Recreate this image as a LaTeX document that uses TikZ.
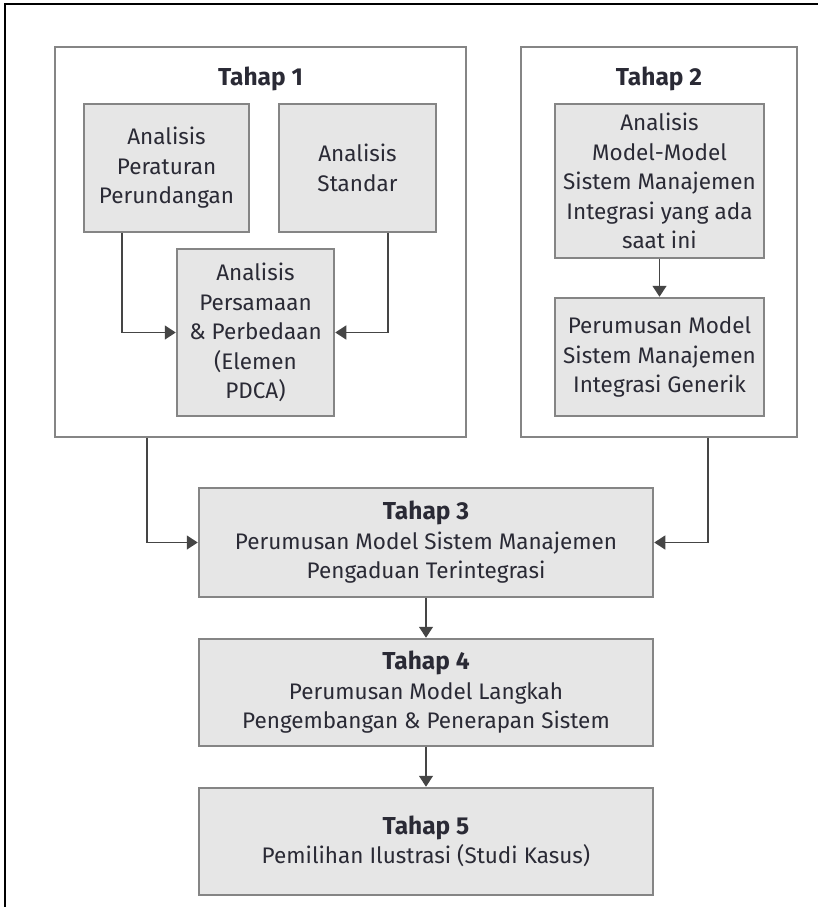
\documentclass[tikz,border=0pt]{standalone}
\usepackage{fontspec}
\setmainfont{Fira Sans}
\usetikzlibrary{arrows.meta}
\definecolor{boxfill}{HTML}{E6E6E6}
\definecolor{boxline}{HTML}{858585}
\definecolor{txt}{HTML}{2A2A35}
\definecolor{conn}{HTML}{454545}
\newcommand{\stagehead}[1]{{\fontsize{24.5}{29.5}\selectfont\bfseries #1}}
\tikzset{
  stage/.style={draw=boxline, line width=1.5pt, fill=white, inner sep=0pt},
  card/.style={draw=boxline, line width=1.5pt, fill=boxfill, inner sep=0pt,
    align=center, text=txt, font=\fontsize{22.5}{29.5}\selectfont},
  title/.style={text=txt, font=\fontsize{24.5}{29.5}\selectfont\bfseries},
  arr/.style={draw=conn, line width=1.3pt,
    -{Triangle[width=14pt,length=11pt]}, shorten >=0.5pt},
}
\begin{document}
\begin{tikzpicture}[x=1pt, y=-1pt]
\useasboundingbox (0,0) rectangle (818,907);
\begin{scope}
  \clip (0,0) rectangle (818,907);
  \draw[black, line width=2pt] (5,4) rectangle (840,930);
\end{scope}

% outer stage frames
\node[stage, minimum width=411pt, minimum height=390pt] (s1) at (260.5,242) {};
\node[stage, minimum width=276pt, minimum height=390pt] (s2) at (659,242) {};
\node[title] (s1t) at (260.5,79) {Tahap 1};
\node[title] (s2t) at (659,79) {Tahap 2};

% stage 1 contents
\node[card, minimum width=165pt, minimum height=128pt] (per) at (166.5,168)
  {Analisis\\Peraturan\\Perundangan};
\node[card, minimum width=157pt, minimum height=128pt] (std) at (357.5,168)
  {Analisis\\Standar};
\node[card, minimum width=157pt, minimum height=167pt] (pers) at (255.5,332.5)
  {Analisis\\Persamaan\\\& Perbedaan\\(Elemen\\PDCA)};

% stage 2 contents
\node[card, minimum width=209pt, minimum height=154pt] (mod) at (659.5,181)
  {Analisis\\Model-Model\\Sistem Manajemen\\Integrasi yang ada\\saat ini};
\node[card, minimum width=209pt, minimum height=118pt] (gen) at (659.5,357)
  {Perumusan Model\\Sistem Manajemen\\Integrasi Generik};

% stages 3-5
\node[card, minimum width=454pt, minimum height=109pt] (t3) at (426,542.5)
  {\stagehead{Tahap 3}\\Perumusan Model Sistem Manajemen\\Pengaduan Terintegrasi};
\node[card, minimum width=454pt, minimum height=107pt] (t4) at (426,692.5)
  {\stagehead{Tahap 4}\\Perumusan Model Langkah\\Pengembangan \& Penerapan Sistem};
\node[card, minimum width=454pt, minimum height=107pt] (t5) at (426,841.5)
  {\stagehead{Tahap 5}\\Pemilihan Ilustrasi (Studi Kasus)};

% connectors
\draw[arr] ([xshift=-44.5pt]per.south) |- (pers.west);
\draw[arr] ([xshift=30.5pt]std.south) |- (pers.east);
\draw[arr] (mod.south) -- (gen.north);
\draw[arr] ([xshift=-113.5pt]s1.south) |- (t3.west);
\draw[arr] ([xshift=49pt]s2.south) |- (t3.east);
\draw[arr] (t3.south) -- (t4.north);
\draw[arr] (t4.south) -- (t5.north);
\end{tikzpicture}
\end{document}
